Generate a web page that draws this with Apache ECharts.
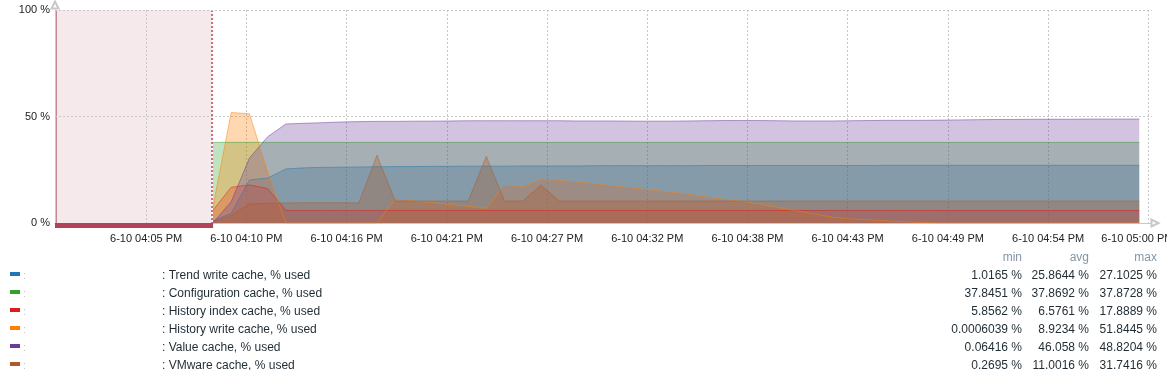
<!DOCTYPE html>
<html><head><meta charset="utf-8">
<script src="https://cdn.jsdelivr.net/npm/echarts@6/dist/echarts.min.js"></script>
<style>html,body{margin:0;padding:0;background:#fff}#c{width:1167px;height:370px}</style>
</head><body><div id="c"></div>
<script>
// minutes after 16:00
const times = [8.67, 9.67, 10.67, 11.67, 12.67, 13.67, 14.67, 15.67, 16.67, 17.67,
  18.67, 19.67, 20.67, 21.67, 22.67, 23.67, 24.67, 25.67, 26.67, 27.67,
  28.67, 29.67, 30.67, 31.67, 32.67, 33.67, 34.67, 35.67, 36.67, 37.67,
  38.67, 39.67, 40.67, 41.67, 42.67, 43.67, 44.67, 45.67, 46.67, 47.67,
  48.67, 49.67, 50.67, 51.67, 52.67, 53.67, 54.67, 55.67, 56.67, 57.67,
  58.67, 59.5];

const trendWrite = [1.0165, 4.5, 20.2, 21.1, 25.4, 25.9, 26.1, 26.2, 26.3, 26.4,
  26.5, 26.5, 26.6, 26.6, 26.7, 26.7, 26.7, 26.8, 26.8, 26.8,
  26.8, 26.9, 26.9, 26.9, 26.9, 26.9, 26.9, 27.0, 27.0, 27.0,
  27.0, 27.0, 27.0, 27.0, 27.0, 27.0, 27.0, 27.1, 27.1, 27.1,
  27.1, 27.1, 27.1, 27.1, 27.1, 27.1, 27.1, 27.1, 27.1, 27.1,
  27.1, 27.1];
const configCache = [37.8451, 37.87, 37.87, 37.87, 37.87, 37.87, 37.87, 37.87, 37.87, 37.87,
  37.87, 37.87, 37.87, 37.87, 37.87, 37.87, 37.87, 37.87, 37.87, 37.87,
  37.87, 37.87, 37.87, 37.87, 37.87, 37.87, 37.87, 37.87, 37.87, 37.87,
  37.87, 37.87, 37.87, 37.87, 37.87, 37.87, 37.87, 37.87, 37.87, 37.87,
  37.87, 37.87, 37.87, 37.87, 37.87, 37.87, 37.87, 37.87, 37.87, 37.87,
  37.87, 37.8728];
const historyIndex = [6.0, 16.8, 17.8889, 16.2, 5.9, 5.9, 5.9, 5.9, 5.9, 5.9,
  5.9, 5.9, 5.9, 5.9, 5.9, 5.9, 5.9, 5.9, 5.9, 5.9,
  5.88, 5.88, 5.88, 5.88, 5.88, 5.88, 5.88, 5.88, 5.88, 5.88,
  5.87, 5.87, 5.87, 5.87, 5.87, 5.87, 5.87, 5.87, 5.87, 5.87,
  5.86, 5.86, 5.86, 5.86, 5.86, 5.86, 5.86, 5.86, 5.86, 5.86,
  5.8562, 5.8562];
const historyWrite = [7.5, 51.8445, 51.3, 24.0, 0.0006, 0.0006, 0.0006, 0.0006, 0.0006, 0.0006,
  11.3, 10.4, 9.6, 8.7, 7.9, 6.9, 17.8, 16.9, 20.7, 20.0,
  19.3, 18.4, 17.4, 16.5, 15.5, 14.6, 13.7, 12.3, 11.2, 10.2,
  8.9, 7.3, 5.8, 4.2, 2.7, 1.9, 1.5, 1.0, 0.6, 0.2,
  0.0006, 0.0006, 0.0006, 0.0006, 0.0006, 0.0006, 0.0006, 0.0006, 0.0006, 0.0006,
  0.0006, 0.0006039];
const valueCache = [0.06416, 10.0, 30.5, 40.5, 46.5, 46.8, 47.1, 47.4, 47.6, 47.7,
  47.7, 47.8, 47.8, 47.9, 48.0, 48.0, 48.0, 48.0, 48.0, 48.0,
  47.9, 47.9, 47.9, 47.8, 47.8, 47.8, 47.9, 48.0, 48.1, 48.1,
  48.1, 48.0, 47.9, 47.9, 47.9, 48.0, 48.1, 48.2, 48.2, 48.2,
  48.3, 48.4, 48.5, 48.6, 48.6, 48.7, 48.7, 48.7, 48.8, 48.8,
  48.8, 48.8204];
const vmwareCache = [0.2695, 3.5, 9.0, 9.2, 9.4, 9.5, 9.5, 9.5, 9.4, 31.7416,
  10.3, 10.3, 10.3, 10.3, 10.3, 31.2, 10.3, 10.3, 17.8, 10.3,
  10.3, 10.3, 10.3, 10.3, 10.3, 10.3, 10.3, 10.3, 10.3, 10.3,
  10.3, 10.3, 10.3, 10.3, 10.3, 10.3, 10.3, 10.3, 10.3, 10.3,
  10.3, 10.3, 10.3, 10.3, 10.3, 10.3, 10.3, 10.3, 10.3, 10.3,
  10.3, 10.3];

const tickValues = [5, 10.5, 16, 21.5, 27, 32.5, 38, 43.5, 49, 54.5, 60];
const tickLabels = ['6-10 04:05 PM', '6-10 04:10 PM', '6-10 04:16 PM', '6-10 04:21 PM',
  '6-10 04:27 PM', '6-10 04:32 PM', '6-10 04:38 PM', '6-10 04:43 PM', '6-10 04:49 PM',
  '6-10 04:54 PM', '6-10 05:00 PM'];

const noDataSpan = [0, 8.62];

const seriesNames = ['Trend write cache, % used', 'Configuration cache, % used', 'History index cache, % used',
  'History write cache, % used', 'Value cache, % used', 'VMware cache, % used'];
const seriesColors = ['#1f78b4', '#33a02c', '#e31a1c', '#ff7f00', '#6a3d9a', '#b15928'];
const mins = ['1.0165 %', '37.8451 %', '5.8562 %', '0.0006039 %', '0.06416 %', '0.2695 %'];
const avgs = ['25.8644 %', '37.8692 %', '6.5761 %', '8.9234 %', '46.058 %', '11.0016 %'];
const maxs = ['27.1025 %', '37.8728 %', '17.8889 %', '51.8445 %', '48.8204 %', '31.7416 %'];

const allData = [trendWrite, configCache, historyIndex, historyWrite, valueCache, vmwareCache];

const FONT = '"Liberation Sans", Arial, sans-serif';

const lineSeries = allData.map((d, i) => ({
  name: seriesNames[i], type: 'line', z: 3,
  data: times.map((t, j) => [t, d[j]]),
  symbol: 'none', showSymbol: false, silent: true,
  lineStyle: { color: seriesColors[i], width: 1, opacity: 0.5 },
  itemStyle: { color: seriesColors[i] },
  areaStyle: { color: seriesColors[i], opacity: 0.3 }
}));

const bgSeries = {
  type: 'custom', z: -1, silent: true, clip: false,
  data: [[noDataSpan[0], noDataSpan[1], 0, 100]],
  encode: { x: [0, 1], y: [2, 3] },
  renderItem: (params, api) => {
    const a = api.coord([api.value(0), 100]);
    const b = api.coord([api.value(1), 0]);
    return { type: 'group', children: [
      { type: 'rect', shape: { x: a[0], y: a[1], width: b[0] - a[0], height: b[1] - a[1] }, style: { fill: '#f5e9ec' } },
      { type: 'line', shape: { x1: a[0] + 1, y1: a[1], x2: a[0] + 1, y2: b[1] }, style: { stroke: '#c98591', lineWidth: 2 } },
      { type: 'line', shape: { x1: b[0], y1: a[1], x2: b[0], y2: b[1] }, style: { stroke: '#c56b7d', lineWidth: 2, lineDash: [2, 2] } }
    ]};
  }
};
const barSeries = {
  type: 'custom', z: 6, silent: true, clip: false,
  data: [[noDataSpan[0], noDataSpan[1], 0, 0]],
  encode: { x: [0, 1], y: [2, 3] },
  renderItem: (params, api) => {
    const a = api.coord([api.value(0), 0]);
    const b = api.coord([api.value(1), 0]);
    return { type: 'rect', shape: { x: a[0], y: a[1], width: b[0] - a[0] + 1, height: 5 }, style: { fill: '#b0435a' } };
  }
};

// legend table as graphic texts
const graphics = [];
const rowY0 = 276, rowH = 18, headY = 258;
graphics.push({ type: 'text', x: 1022, y: headY, style: { text: 'min', fill: '#8596a8', font: '12px ' + FONT, textAlign: 'right', textVerticalAlign: 'middle' } });
graphics.push({ type: 'text', x: 1089, y: headY, style: { text: 'avg', fill: '#8596a8', font: '12px ' + FONT, textAlign: 'right', textVerticalAlign: 'middle' } });
graphics.push({ type: 'text', x: 1157, y: headY, style: { text: 'max', fill: '#8596a8', font: '12px ' + FONT, textAlign: 'right', textVerticalAlign: 'middle' } });
seriesNames.forEach((n, i) => {
  const y = rowY0 + i * rowH;
  graphics.push({ type: 'rect', shape: { x: 10, y: y - 4, width: 10, height: 4 }, style: { fill: seriesColors[i] } });
  graphics.push({ type: 'text', x: 23, y: y, style: { text: ':', fill: '#c0c0c0', font: '10px ' + FONT, textVerticalAlign: 'middle' } });
  graphics.push({ type: 'text', x: 162, y: y, style: { text: ': ' + n, fill: '#1f2c33', font: '12px ' + FONT, textVerticalAlign: 'middle' } });
  graphics.push({ type: 'text', x: 1022, y: y, style: { text: mins[i], fill: '#1f2c33', font: '12px ' + FONT, textAlign: 'right', textVerticalAlign: 'middle' } });
  graphics.push({ type: 'text', x: 1089, y: y, style: { text: avgs[i], fill: '#1f2c33', font: '12px ' + FONT, textAlign: 'right', textVerticalAlign: 'middle' } });
  graphics.push({ type: 'text', x: 1157, y: y, style: { text: maxs[i], fill: '#1f2c33', font: '12px ' + FONT, textAlign: 'right', textVerticalAlign: 'middle' } });
});

const chart = echarts.init(document.getElementById('c'), null, { renderer: 'canvas' });
chart.setOption({
  animation: false,
  backgroundColor: '#ffffff',
  textStyle: { fontFamily: FONT },
  grid: { left: 55, right: 15, top: 10, bottom: 147, containLabel: false, outerBoundsMode: 'none' },
  xAxis: {
    type: 'value', min: 0, max: 60.2,
    axisLine: { show: true, lineStyle: { color: '#c8c8c8', width: 1 }, symbol: ['none', 'emptyTriangle'], symbolSize: [7, 7], symbolOffset: [0, 3] },
    axisTick: { show: false, customValues: tickValues },
    axisLabel: {
      customValues: tickValues, color: '#222', fontSize: 11, margin: 10, fontFamily: FONT,
      formatter: (v) => {
        const i = tickValues.indexOf(v);
        if (i < 0) return '';
        return i === tickValues.length - 1 ? '{e|' + tickLabels[i] + '}' : tickLabels[i];
      },
      rich: { e: { fontSize: 11, color: '#222', fontFamily: FONT, padding: [0, 22, 0, 0] } }
    },
    splitLine: { show: true, lineStyle: { color: '#c8c8c8', type: [2, 2], width: 1 } }
  },
  yAxis: {
    type: 'value', min: 0, max: 100, interval: 50,
    axisLine: { show: true, lineStyle: { color: '#c8c8c8', width: 1 }, symbol: ['none', 'emptyTriangle'], symbolSize: [7, 7], symbolOffset: [0, 5] },
    axisTick: { show: false },
    axisLabel: { color: '#222', fontSize: 11, margin: 5, fontFamily: FONT, formatter: '{value} %' },
    splitLine: { show: true, lineStyle: { color: '#c8c8c8', type: [2, 2], width: 1 } }
  },
  graphic: { elements: graphics },
  series: [bgSeries].concat(lineSeries).concat([barSeries])
});
</script>
</body></html>
